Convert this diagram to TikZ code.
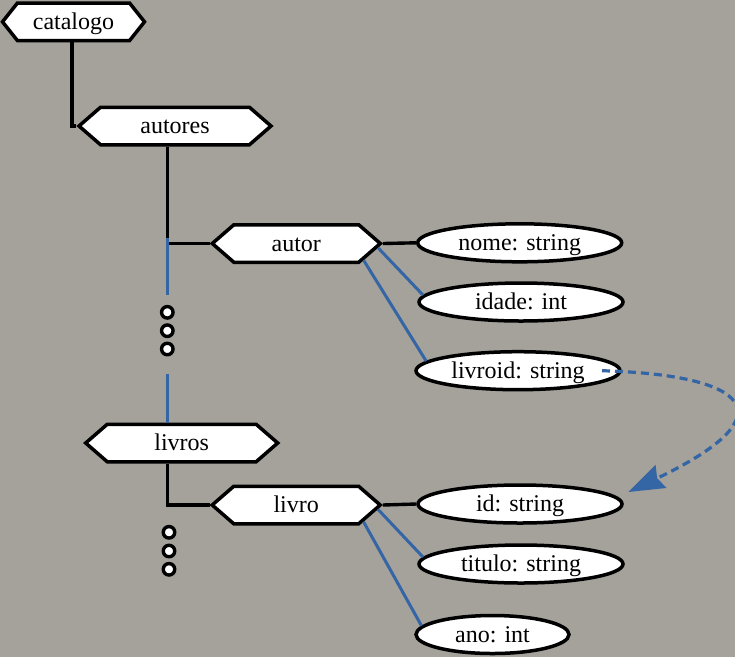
\documentclass[tikz,border=0pt]{standalone}
\usepackage{fontspec}
\setmainfont{Liberation Serif}
\usetikzlibrary{shapes.symbols,shapes.geometric,arrows.meta}
\definecolor{bg}{HTML}{A5A19B}
\definecolor{lnblue}{HTML}{3465A4}
\begin{document}
\begin{tikzpicture}[x=1pt,y=-1pt,
  hexa/.style={signal, signal to=west and east, signal pointer angle=82, draw=black, fill=white, line width=3.5pt, minimum height=37.5pt, inner sep=0pt, text height=17pt, text depth=2pt, font=\fontsize{24}{28}\selectfont},
  attr/.style={ellipse, draw=black, fill=white, line width=3.5pt, minimum width=204pt, minimum height=38pt, inner sep=0pt, text height=17pt, text depth=2pt, font=\fontsize{24}{28}\selectfont},
  dotc/.style={circle, draw=black, fill=white, line width=3.4pt, minimum size=11.5pt, inner sep=0pt},
  blk/.style={draw=black, line width=3.4pt},
  blu/.style={draw=lnblue, line width=3pt},
  ref/.style={draw=lnblue, line width=3.2pt, dash pattern=on 8pt off 5pt, -{Stealth[length=36pt, width=25pt, inset=4pt]}},
]
\fill[bg] (0,0) rectangle (735,657);
\useasboundingbox (0,0) rectangle (735,657);

% tree nodes
\node[hexa, signal pointer angle=103, minimum width=142pt] (catalogo) at (73.5,21.8) {catalogo};
\node[hexa, minimum width=192pt] (autores) at (175,126) {autores};
\node[hexa, minimum width=168pt] (autor) at (296.3,243.5) {autor};
\node[hexa, minimum width=192pt] (livros) at (181.7,443) {livros};
\node[hexa, minimum width=168pt] (livro) at (296.2,505) {livro};

% attributes
\node[attr] (nome) at (519.7,242.8) {nome: string};
\node[attr] (idade) at (521,302) {idade: int};
\node[attr] (livroid) at (518,370.7) {livroid: string};
\node[attr] (id) at (520,504) {id: string};
\node[attr] (titulo) at (521,564) {titulo: string};
\node[attr, minimum width=153pt] (ano) at (492.5,634.5) {ano: int};

% ellipsis dots
\node[dotc] (d1) at (167.3,312.3) {};
\node[dotc] (d2) at (167.3,330.7) {};
\node[dotc] (d3) at (167.3,349) {};
\node[dotc] (e1) at (169,532.3) {};
\node[dotc] (e2) at (169,551) {};
\node[dotc] (e3) at (169,569.3) {};

\coordinate (b1) at (167.3,238);
\coordinate (b2) at (167.3,295);
\coordinate (b3) at (167.3,374);

% tree connectors
\draw[blk] ([xshift=-1.5pt]catalogo.south) |- (autores.west);
\draw[blk] ([xshift=-7.7pt]autores.south) |- (autor.west);
\draw[blu] (b1) -- (b2);
\draw[blu] (b3) -- (b3 |- livros.north);
\draw[blk] ([xshift=-14.4pt]livros.south) |- (livro.west);

% attribute connectors
\draw[blk] (autor.east) -- (nome.west);
\draw[blu] (autor.-3) -- (idade.176);
\draw[blu] (autor.-14) -- (livroid.174);
\draw[blk] (livro.east) -- (id.west);
\draw[blu] (livro.-3) -- (titulo.176);
\draw[blu] (livro.-14) -- (ano.173);

% reference arrow
\draw[ref] ([xshift=84pt]livroid.center) .. controls (750,375) and (790,415) .. ([shift={(4.5pt,12pt)}]id.east);
\end{tikzpicture}
\end{document}
